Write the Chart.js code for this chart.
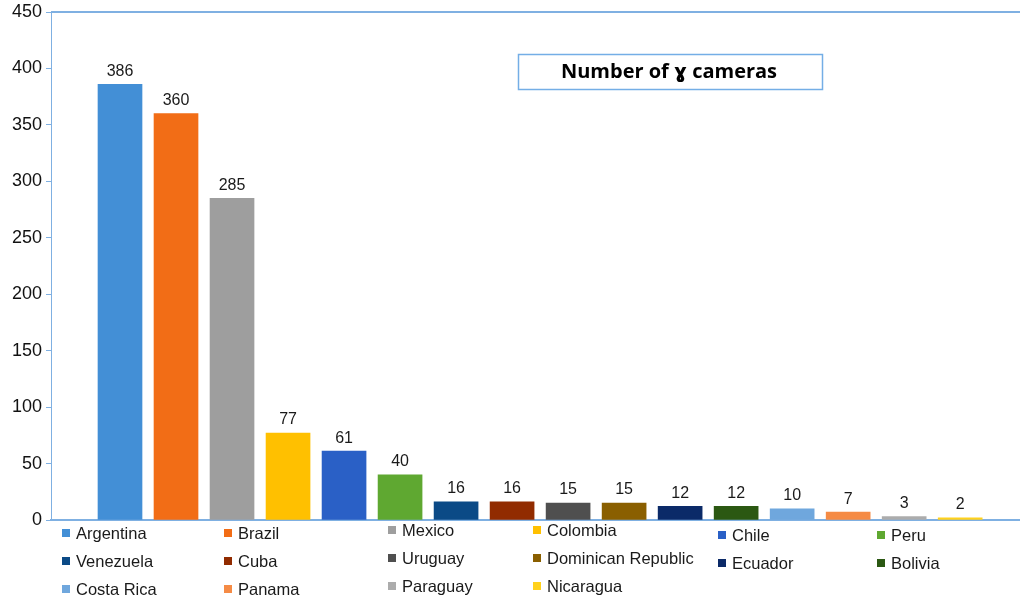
<!DOCTYPE html>
<html>
<head>
<meta charset="utf-8">
<script src="https://cdn.jsdelivr.net/npm/chart.js@4/dist/chart.umd.min.js"></script>
<style>
	html, body { margin: 0; padding: 0; background: #fff; }
	#wrap { width: 1020px; height: 601px; }
</style>
</head>
<body>
<div id="wrap"><canvas id="camChart" width="1020" height="601"></canvas></div>
<script>
// Number of gamma cameras per country
const countries = ["Argentina", "Brazil", "Mexico", "Colombia", "Chile", "Peru",
	"Venezuela", "Cuba", "Uruguay", "Dominican Republic", "Ecuador", "Bolivia",
	"Costa Rica", "Panama", "Paraguay", "Nicaragua"];
const cameras = [386, 360, 285, 77, 61, 40, 16, 16, 15, 15, 12, 12, 10, 7, 3, 2];
const barColors = ["#438fd6", "#f26d16", "#9e9e9e", "#ffc000", "#2a60c6", "#5fa831",
	"#0b4a86", "#912b00", "#4f4f4f", "#8a5f00", "#0b2a68", "#2b5812",
	"#6fa7dd", "#f58b45", "#acacac", "#ffd11c"];
const yTicks = [0, 50, 100, 150, 200, 250, 300, 350, 400, 450];
const chartTitle = "Number of \u0263 cameras";

const axisBlue = "#7fb0e2";
const textFont = "'Liberation Sans', Arial, sans-serif";

// legend grid: 6 columns, filled row by row
const legendCols = [62, 224, 388, 533, 718, 877];
const legendColShift = [0, 0, -3, -3, 2, 2];
const legendRows = [533, 561, 589];

const valueLabels = {
	id: "valueLabels",
	afterDatasetsDraw(chart) {
		const ctx = chart.ctx;
		const meta = chart.getDatasetMeta(0);
		ctx.save();
		ctx.font = "16px " + textFont;
		ctx.fillStyle = "#1a1a1a";
		ctx.textAlign = "center";
		ctx.textBaseline = "bottom";
		meta.data.forEach((bar, i) => {
			ctx.fillText(String(cameras[i]), bar.x, bar.y - 5);
		});
		ctx.restore();
	}
};

const frameAndLegend = {
	id: "frameAndLegend",
	afterDraw(chart) {
		const ctx = chart.ctx;
		const area = chart.chartArea;
		ctx.save();
		// top border line
		ctx.strokeStyle = axisBlue;
		ctx.lineWidth = 2;
		ctx.beginPath();
		ctx.moveTo(area.left, area.top);
		ctx.lineTo(chart.width, area.top);
		ctx.stroke();

		// title box
		ctx.lineWidth = 1.5;
		ctx.strokeStyle = "#74aee6";
		ctx.strokeRect(518.5, 54.5, 304, 35);
		ctx.fillStyle = "#000";
		ctx.font = "bold 20px 'Open Sans', 'DejaVu Sans', sans-serif";
		ctx.textAlign = "center";
		ctx.textBaseline = "middle";
		ctx.fillText(chartTitle, 669, 72);

		// legend
		ctx.font = "16.5px " + textFont;
		ctx.textAlign = "left";
		countries.forEach((name, i) => {
			const col = i % 6;
			const row = Math.floor(i / 6);
			const x = legendCols[col];
			const y = legendRows[row] + legendColShift[col];
			ctx.fillStyle = barColors[i];
			ctx.fillRect(x, y - 4, 8, 8);
			ctx.fillStyle = "#1a1a1a";
			ctx.fillText(name, x + 14, y + 1);
		});
		ctx.restore();
	}
};

new Chart(document.getElementById("camChart").getContext("2d"), {
	type: "bar",
	data: {
		datasets: [{
			label: "Number of gamma cameras",
			data: cameras.map((v, i) => ({ x: i + 1, y: v })),
			backgroundColor: barColors,
			borderWidth: 0,
			barThickness: 44
		}]
	},
	options: {
		responsive: false,
		animation: false,
		layout: { padding: { top: 12, bottom: 81, left: 0, right: 1 } },
		plugins: {
			legend: { display: false },
			tooltip: { enabled: false }
		},
		scales: {
			x: {
				type: "linear",
				offset: false,
				min: -0.232,
				max: 17.05,
				afterFit(scale) { scale.height = 0; },
				ticks: { display: false },
				grid: { display: false },
				border: { display: true, color: axisBlue, width: 2 }
			},
			y: {
				min: 0,
				max: 450,
				afterBuildTicks(scale) {
					scale.ticks = yTicks.map(v => ({ value: v }));
				},
				afterFit(scale) {
					scale.width = 51;
					scale.paddingTop = 0;
				},
				ticks: {
					font: { family: textFont, size: 18 },
					color: "#111",
					padding: 4
				},
				grid: {
					drawOnChartArea: false,
					color: axisBlue,
					tickLength: 5
				},
				border: { display: true, color: axisBlue, width: 1 }
			}
		}
	},
	plugins: [valueLabels, frameAndLegend]
});
</script>
</body>
</html>
